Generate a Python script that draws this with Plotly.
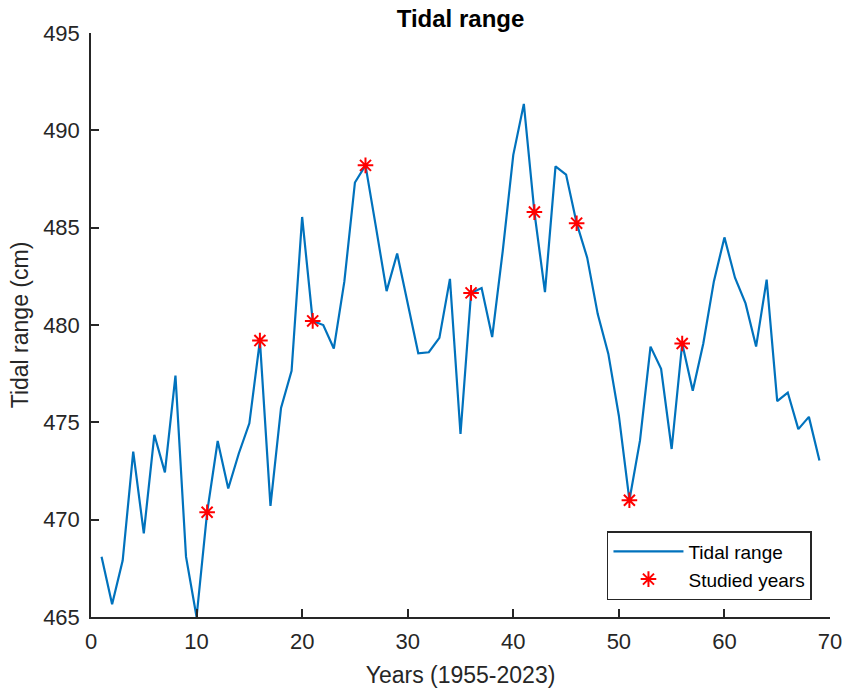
import plotly.graph_objects as go

# Annual mean tidal range, years counted from 1955 (year index 1..69)
years = list(range(1, 70))
tidal_range = [
    468.1, 465.65, 467.9, 473.5, 469.3, 474.36, 472.43, 477.4, 468.1, 465.0,
    470.38, 474.04, 471.6, 473.4, 474.95, 479.2, 470.71, 475.74, 477.65, 485.55,
    480.21, 480.0, 478.79, 482.24, 487.32, 488.2, 485.0, 481.74, 483.67, 481.1,
    478.55, 478.6, 479.34, 482.37, 474.4, 481.65, 481.9, 479.38, 483.8, 488.74,
    491.36, 485.8, 481.69, 488.15, 487.73, 485.23, 483.46, 480.56, 478.53, 475.34,
    471.0, 474.06, 478.89, 477.75, 473.63, 479.05, 476.62, 479.05, 482.24, 484.5,
    482.43, 481.11, 478.89, 482.33, 476.09, 476.53, 474.65, 475.28, 473.04,
]

# Years selected for detailed study
studied_years = [11, 16, 21, 26, 36, 42, 46, 51, 56]
studied_values = [tidal_range[years.index(y)] for y in studied_years]

x_ticks = list(range(0, 71, 10))
y_ticks = list(range(465, 496, 5))

axis_color = "#262626"
font_family = "Liberation Sans, Arial, Helvetica, sans-serif"

fig = go.Figure()
fig.add_trace(go.Scatter(
    x=years, y=tidal_range, mode="lines", name="Tidal range",
    line=dict(color="#0072BD", width=2.2),
))
fig.add_trace(go.Scatter(
    x=studied_years, y=studied_values, mode="markers", name="Studied years",
    marker=dict(symbol="asterisk-open", size=13, color="#FF0000",
                line=dict(color="#FF0000", width=2)),
))

fig.update_layout(
    width=845, height=691,
    margin=dict(l=91, r=15, t=33, b=74),
    paper_bgcolor="white", plot_bgcolor="white",
    font=dict(family=font_family, color=axis_color, size=22),
    title=dict(text="<b>Tidal range</b>", x=0.5, xanchor="center",
               xref="paper", y=0.973, yanchor="middle",
               font=dict(size=24, color="black", family=font_family)),
    showlegend=True,
    legend=dict(
        x=0.9756, y=0.029, xanchor="right", yanchor="bottom",
        bgcolor="white", bordercolor=axis_color, borderwidth=1.5,
        font=dict(size=19, color="black", family=font_family),
        tracegroupgap=0, itemwidth=70,
    ),
)

fig.update_xaxes(
    range=[0, 70], tickvals=x_ticks, ticks="inside", ticklen=8,
    tickwidth=1.5, tickcolor=axis_color, showline=True, linecolor=axis_color,
    linewidth=1.5, showgrid=False, zeroline=False, mirror=False,
    ticklabelstandoff=4, automargin=False,
    title=dict(text="Years (1955-2023)", font=dict(size=23), standoff=14),
    tickfont=dict(size=22, color=axis_color),
)
fig.update_yaxes(
    range=[465, 495], tickvals=y_ticks, ticks="inside", ticklen=8,
    tickwidth=1.5, tickcolor=axis_color, showline=True, linecolor=axis_color,
    linewidth=1.5, showgrid=False, zeroline=False, mirror=False,
    ticklabelstandoff=5, automargin=False,
    title=dict(text="Tidal range (cm)", font=dict(size=23), standoff=8),
    tickfont=dict(size=22, color=axis_color),
)

fig.write_html("out.html")
